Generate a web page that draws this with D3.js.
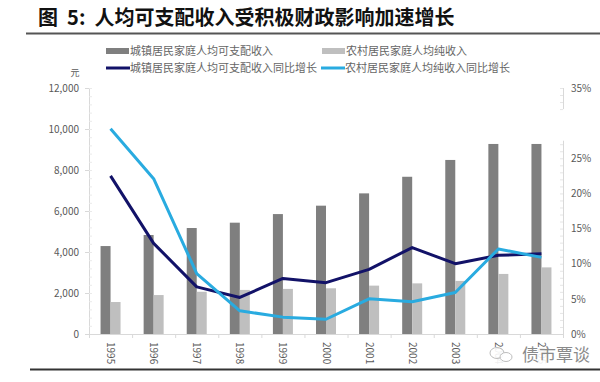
<!DOCTYPE html>
<html><head><meta charset="utf-8">
<script src="https://cdn.jsdelivr.net/npm/d3@7/dist/d3.min.js"></script>
<style>
body{margin:0;background:#fff;}
svg{display:block;}
text{font-family:"Noto Sans CJK SC","Noto Sans",sans-serif;}
</style></head>
<body><svg id="c" width="600" height="382"></svg>
<script>
const years = ["1995","1996","1997","1998","1999","2000","2001","2002","2003","2004","2005"];
const urbanIncome = [4290,4830,5170,5430,5850,6260,6860,7670,8490,9270,9270];
const ruralIncome = [1560,1900,2060,2150,2200,2230,2360,2470,2590,2930,3250];
const urbanGrowth = [22.5,12.9,6.7,5.2,7.9,7.3,9.2,12.3,10.0,11.2,11.4];
const ruralGrowth = [29.2,22.1,8.6,3.3,2.4,2.1,5.0,4.6,5.9,12.1,10.9];
const leftTicks = [0,2000,4000,6000,8000,10000,12000];
const rightTicks = [0,5,10,15,20,25,35];
const seriesNames = ["城镇居民家庭人均可支配收入","农村居民家庭人均纯收入","城镇居民家庭人均可支配收入同比增长","农村居民家庭人均纯收入同比增长"];
const titleText = "图  5:  人均可支配收入受积极财政影响加速增长";

const svg = d3.select("#c");
const L = 89, R = 563, T = 88, B = 334;
const gray = "#595959", axisCol = "#d9d9d9";
const cDark = "#7f7f7f", cLight = "#bfbfbf", cNavy = "#121268", cBlue = "#29abe0";

// title
svg.append("text").attr("x",38).attr("y",25).attr("font-size",20).attr("font-weight","bold")
  .attr("fill","#111").attr("xml:space","preserve").style("white-space","pre").text(titleText);
svg.append("line").attr("x1",26).attr("x2",600).attr("y1",33.5).attr("y2",33.5).attr("stroke","#555").attr("stroke-width",2);
svg.append("line").attr("x1",30).attr("x2",600).attr("y1",369.5).attr("y2",369.5).attr("stroke","#333").attr("stroke-width",2);

const x = d3.scaleBand().domain(years).range([L,R]).padding(0);
const y = d3.scaleLinear().domain([0,12000]).range([B,T]);
const y2 = d3.scaleLinear().domain([0,35]).range([B,T]);
const bw = 10;

// axes
const gL = svg.append("g").attr("transform",`translate(${L},0)`)
  .call(d3.axisLeft(y).tickValues(leftTicks).tickFormat(d3.format(",")).tickSize(4));
gL.select(".domain").attr("stroke",axisCol);
gL.selectAll(".tick line").attr("stroke",axisCol);
gL.selectAll(".tick text").attr("fill",gray).attr("font-size",10).attr("font-family","Open Sans, sans-serif").attr("x",-10);
svg.append("g").selectAll("line").data(d3.range(0,12001,400)).join("line")
  .attr("x1",L).attr("x2",L+3).attr("y1",d=>y(d)+.5).attr("y2",d=>y(d)+.5).attr("stroke","#eaeaea");
svg.append("text").attr("x",75).attr("y",76).attr("font-size",9).attr("fill",gray).attr("text-anchor","middle").text("元");

const gR = svg.append("g").attr("transform",`translate(${R},0)`)
  .call(d3.axisRight(y2).tickValues(rightTicks).tickFormat(d=>d+"%").tickSize(0));
gR.select(".domain").remove();
gR.selectAll(".tick text").attr("fill",gray).attr("font-size",10).attr("font-family","Open Sans, sans-serif").attr("x",8);
[[0,27.5],[32,35]].forEach(s=>svg.append("line").attr("x1",R+.5).attr("x2",R+.5).attr("y1",y2(s[0])).attr("y2",y2(s[1])).attr("stroke",axisCol));
svg.append("g").selectAll("line").data(d3.range(0,35.1,1).filter(v=>v<=27.5||v>=32)).join("line")
  .attr("x1",R-3).attr("x2",R).attr("y1",d=>y2(d)+.5).attr("y2",d=>y2(d)+.5).attr("stroke","#e6e6e6");

const gX = svg.append("g").attr("transform",`translate(0,${B})`)
  .call(d3.axisBottom(x).tickSize(0).tickFormat(d=>d));
gX.select(".domain").attr("stroke",axisCol);
gX.selectAll(".tick text").attr("fill",gray).attr("font-size",10).attr("font-family","Open Sans, sans-serif")
  .attr("transform","rotate(90)").attr("text-anchor","start").attr("x",8).attr("y",0).attr("dy","0.35em");
svg.append("g").selectAll("line").data(years.concat(["end"])).join("line")
  .attr("x1",(d,i)=>L+i*x.bandwidth()+.5).attr("x2",(d,i)=>L+i*x.bandwidth()+.5)
  .attr("y1",B).attr("y2",B+4).attr("stroke",axisCol);

// bars
svg.append("g").selectAll("rect").data(urbanIncome).join("rect")
  .attr("x",(d,i)=>x(years[i])+x.bandwidth()/2-bw).attr("width",bw)
  .attr("y",d=>y(d)).attr("height",d=>B-y(d)).attr("fill",cDark);
svg.append("g").selectAll("rect").data(ruralIncome).join("rect")
  .attr("x",(d,i)=>x(years[i])+x.bandwidth()/2).attr("width",bw)
  .attr("y",d=>y(d)).attr("height",d=>B-y(d)).attr("fill",cLight);

// lines
const line = d3.line().x((d,i)=>x(years[i])+x.bandwidth()/2).y(d=>y2(d));
svg.append("path").datum(urbanGrowth).attr("d",line).attr("fill","none").attr("stroke",cNavy).attr("stroke-width",3).attr("stroke-linejoin","round");
svg.append("path").datum(ruralGrowth).attr("d",line).attr("fill","none").attr("stroke",cBlue).attr("stroke-width",3).attr("stroke-linejoin","round");

// legend
const leg = [
  {x:106,y:51,type:"rect",c:cDark},
  {x:322,y:51,type:"rect",c:cLight},
  {x:106,y:68,type:"line",c:cNavy},
  {x:321,y:68,type:"line",c:cBlue}
];
leg.forEach((l,i)=>{
  if(l.type==="rect") svg.append("rect").attr("x",l.x).attr("y",l.y-3).attr("width",23).attr("height",6).attr("fill",l.c);
  else svg.append("line").attr("x1",l.x).attr("x2",l.x+24).attr("y1",l.y).attr("y2",l.y).attr("stroke",l.c).attr("stroke-width",3);
  svg.append("text").attr("x",l.x+24).attr("y",l.y).attr("dy","0.35em").attr("font-size",11).attr("fill","#666").text(seriesNames[i]);
});

// watermark
svg.append("rect").attr("x",486).attr("y",347).attr("width",100).attr("height",20).attr("fill","#fff").attr("opacity",0.9);
const wm = svg.append("g").attr("transform","translate(497,353)").attr("opacity",0.55);
wm.append("ellipse").attr("cx",0).attr("cy",0).attr("rx",7).attr("ry",5.5).attr("fill","none").attr("stroke","#888");
wm.append("ellipse").attr("cx",9).attr("cy",4).attr("rx",6).attr("ry",4.5).attr("fill","#fff").attr("stroke","#888");
svg.append("text").attr("x",522).attr("y",361).attr("font-size",17).attr("fill","#8a8a8a").text("债市覃谈");
</script></body></html>
